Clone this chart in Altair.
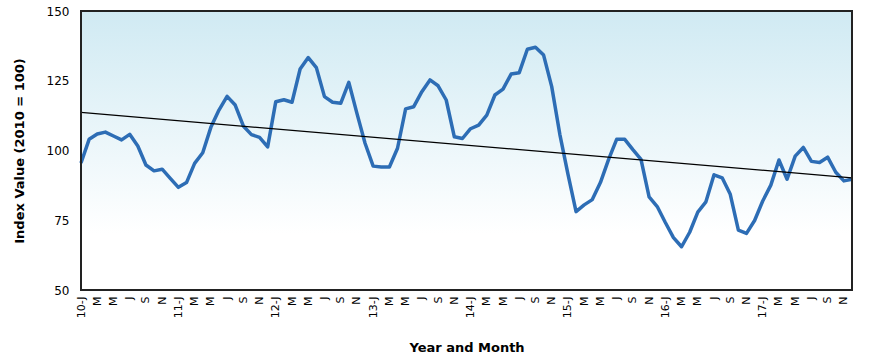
import altair as alt
import pandas as pd

years = ["10", "11", "12", "13", "14", "15", "16", "17"]
month_marks = ["J", "M", "M", "J", "S", "N"]

index_values = [
    95.5, 104.0, 105.9, 106.6, 105.2, 103.8, 105.8, 101.6, 94.8, 92.7, 93.3, 90.0,
    86.8, 88.5, 95.4, 99.2, 108.3, 114.5, 119.4, 116.3, 108.8, 105.7, 104.7, 101.3,
    117.5, 118.2, 117.3, 129.2, 133.3, 129.7, 119.3, 117.3, 116.9, 124.4, 113.3, 102.6,
    94.4, 94.1, 94.1, 100.8, 114.9, 115.7, 121.1, 125.3, 123.2, 118.1, 104.9, 104.3,
    107.8, 109.1, 112.7, 119.9, 122.0, 127.4, 127.9, 136.3, 137.0, 134.2, 122.9, 105.8,
    91.5, 78.1, 80.5, 82.4, 88.5, 96.7, 104.0, 104.0, 100.3, 96.8, 83.4, 79.9,
    74.2, 68.8, 65.5, 70.7, 77.9, 81.6, 91.3, 90.2, 84.3, 71.5, 70.3, 74.9,
    81.9, 87.6, 96.6, 89.7, 98.0, 101.1, 96.1, 95.7, 97.6, 92.2, 89.1, 89.7,
]

tick_labels = []
for y in years:
    for j, m in enumerate(month_marks):
        tick_labels.append(f"{y}-{m}" if j == 0 else m)

df = pd.DataFrame({"idx": list(range(len(index_values))), "value": index_values})
tick_vals = list(range(0, len(index_values), 2))
label_js = "[" + ",".join(f"'{t}'" for t in tick_labels) + "]"

FONT = "DejaVu Sans"

x_scale = alt.Scale(domain=[0, 95], nice=False, zero=False)
y_scale = alt.Scale(domain=[50, 150], nice=False, zero=False)

x_axis = alt.Axis(
    title="Year and Month", values=tick_vals,
    labelExpr=f"{label_js}[round(datum.value/2)]",
    labelAngle=270, labelFontSize=11, labelColor="#000", labelFont=FONT,
    ticks=False, grid=False, domain=False, labelPadding=6,
    titleFont=FONT, titleFontSize=13, titleFontWeight="bold", titleColor="#000",
    titlePadding=24, labelOverlap=False, labelFlush=False, labelBound=False,
)
y_axis = alt.Axis(
    title="Index Value (2010 = 100)", values=[50, 75, 100, 125, 150],
    labelFontSize=12, labelColor="#000", labelFont=FONT,
    ticks=False, grid=False, domain=False, labelPadding=12,
    titleFont=FONT, titleFontSize=13, titleFontWeight="bold", titleColor="#000",
    titlePadding=20, labelOverlap=False, labelFlush=False,
)

bg_df = pd.DataFrame({"x0": [0], "x1": [95], "y0": [150], "y1": [50]})
gradient = alt.LinearGradient(
    gradient="linear", x1=0, x2=0, y1=0, y2=1,
    stops=[
        alt.GradientStop(offset=0, color="#d0eaf3"),
        alt.GradientStop(offset=0.8, color="#ffffff"),
        alt.GradientStop(offset=1, color="#ffffff"),
    ],
)
bg = alt.Chart(bg_df).mark_rect(fill=gradient).encode(
    x=alt.X("x0:Q", scale=x_scale, axis=x_axis),
    x2="x1:Q",
    y=alt.Y("y0:Q", scale=y_scale, axis=y_axis),
    y2="y1:Q",
)

line = alt.Chart(df).mark_line(color="#2d6db5", strokeWidth=3.5, strokeJoin="round").encode(
    x=alt.X("idx:Q", scale=x_scale, axis=x_axis),
    y=alt.Y("value:Q", scale=y_scale, axis=y_axis),
)

trend = alt.Chart(df).transform_regression("idx", "value").mark_line(
    color="#000", strokeWidth=1.2
).encode(
    x=alt.X("idx:Q", scale=x_scale, axis=x_axis),
    y=alt.Y("value:Q", scale=y_scale, axis=y_axis),
)

frame = alt.Chart(bg_df).mark_rect(fill=None, fillOpacity=0, stroke="#222", strokeWidth=2).encode(
    x=alt.X("x0:Q", scale=x_scale, axis=x_axis),
    x2="x1:Q",
    y=alt.Y("y0:Q", scale=y_scale, axis=y_axis),
    y2="y1:Q",
)

chart = alt.layer(bg, line, trend, frame).properties(
    width=771, height=279,
    autosize=alt.AutoSizeParams(type="none"),
    padding={"left": 81, "top": 11, "right": 18, "bottom": 72},
).configure_view(stroke=None).configure(background="#ffffff")

chart.save("out.html", embed_options={"renderer": "svg", "actions": False})
